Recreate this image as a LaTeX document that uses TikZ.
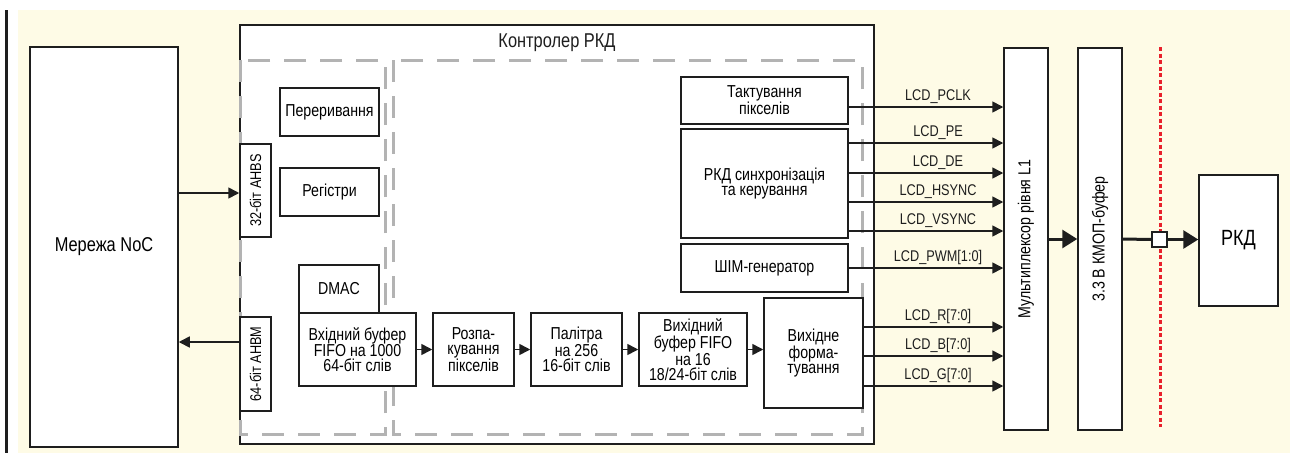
\documentclass[tikz,border=0pt]{standalone}
\usepackage{fontspec}
\usepackage{graphicx}
\setmainfont{Liberation Sans}[FakeStretch=0.82]
\usetikzlibrary{arrows.meta,calc}
\definecolor{paper}{HTML}{FEFBE6}
\definecolor{ink}{HTML}{1E1E1E}
\definecolor{dashgray}{HTML}{B3B3B3}
\definecolor{redcut}{HTML}{E8202B}
\newcommand\fblk{\fontsize{17.3}{14.8}\selectfont}
\newcommand\fsig{\fontsize{15.5}{16}\selectfont}
\newcommand\fbig{\fontsize{20}{22}\selectfont}
\tikzset{
  blk/.style     = {draw=ink, fill=white, line width=1.5pt, align=center, inner sep=0pt, font=\fblk},
  blksm/.style   = {blk, font=\fsig},
  grpdash/.style = {draw=dashgray, line width=3pt, dash pattern=on 22pt off 14pt},
  cutline/.style = {draw=redcut, line width=3pt, dash pattern=on 4pt off 2.5pt},
  sig/.style     = {-{Triangle[length=11pt,width=11pt]}, draw=ink, line width=1.6pt},
  bus/.style     = {-{Triangle[length=15pt,width=18pt]}, draw=ink, line width=3pt},
  busline/.style = {draw=ink, line width=3pt},
  siglab/.style  = {font=\fsig, text=ink, inner sep=0pt, anchor=base},
}
\begin{document}
\begin{tikzpicture}[x=1pt,y=-1pt]
\path[use as bounding box] (0,0) rectangle (1293,453);

% page ground and margin rule
\fill[paper] (18,10) rectangle (1290,453);
\draw[ink, line width=3pt] (6.5,10) -- (6.5,453);

% ---------- network and controller frame --------------------------------
\node[blk, font=\fbig, minimum width=148pt, minimum height=400pt] (noc) at (104,247) {Мережа NoC};
\node[blk, minimum width=634pt, minimum height=419pt] (ctrl) at (557,234.5) {};
\node[font=\fbig, text=ink, inner sep=0pt] (ctrltitle) at (557,43) {Контролер РКД};

% grey dashed groups
\draw[grpdash] (240,60) rectangle (385,434);
\draw[grpdash] (393,60) rectangle (862,434);

% ---------- bus side ----------------------------------------------------
\node[blksm, minimum width=31pt, minimum height=93pt] (ahbs) at (255.5,190.5) {\rotatebox{90}{32-біт AHBS}};
\node[blksm, minimum width=31pt, minimum height=94pt] (ahbm) at (255.5,364) {\rotatebox{90}{64-біт AHBM}};
\node[blk, minimum width=99pt, minimum height=48pt] (irq)  at (329.5,112) {Переривання};
\node[blk, minimum width=99pt, minimum height=48pt] (regs) at (329.5,192) {Регістри};
\node[blk, minimum width=80pt, minimum height=48pt] (dmac) at (339,289) {DMAC};

\draw[sig] (noc.east |- 0,193) -- (ahbs.west |- 0,193);
\draw[sig] (ahbm.west |- 0,342) -- (noc.east |- 0,342);

% ---------- pixel pipeline ----------------------------------------------
\node[blk, minimum width=117pt, minimum height=73pt] (infifo)  at (357.5,349.5) {Вхідний буфер\\FIFO на 1000\\64-біт слів};
\node[blk, minimum width=81pt,  minimum height=73pt] (unpack)  at (473.5,349.5) {Розпа-\\кування\\пікселів};
\node[blk, minimum width=91pt,  minimum height=73pt] (palette) at (576.5,349.5) {Палітра\\на 256\\16-біт слів};
\node[blk, minimum width=108pt, minimum height=73pt] (outfifo) at (693,349.5) {Вихідний\\буфер FIFO\\на 16\\18/24-біт слів};
\node[blk, minimum width=99pt,  minimum height=110pt] (fmt)    at (813.5,353) {Вихідне\\форма-\\тування};

\foreach \a/\b in {infifo/unpack, unpack/palette, palette/outfifo, outfifo/fmt}
  \draw[sig] (\a.east) -- (\a.east -| \b.west);

% ---------- timing and control ------------------------------------------
\node[blk, minimum width=167pt, minimum height=47pt]  (tact) at (764.5,100.5) {Тактування\\пікселів};
\node[blk, minimum width=167pt, minimum height=109pt] (sync) at (764.5,183.5) {РКД синхронізація\\та керування};
\node[blk, minimum width=167pt, minimum height=48pt]  (pwm)  at (764.5,268) {ШІМ-генератор};

% ---------- pads and panel ----------------------------------------------
\node[blk, minimum width=44pt, minimum height=382pt] (mux) at (1026,239) {\rotatebox{90}{Мультиплексор рівня L1}};
\node[blk, minimum width=44pt, minimum height=382pt] (buf) at (1100,239) {\rotatebox{90}{3.3 В КМОП-буфер}};
\node[blk, font=\fontsize{22}{24}\selectfont, minimum width=79pt, minimum height=131pt] (lcd) at (1238.5,240.5) {РКД};

% signals into the multiplexer
\foreach \name/\src/\yy in {LCD\_PCLK/tact/107, LCD\_PE/sync/143, LCD\_DE/sync/173,
    LCD\_HSYNC/sync/202, LCD\_VSYNC/sync/231, LCD\_PWM[1:0]/pwm/268,
    LCD\_R[7:0]/fmt/327, LCD\_B[7:0]/fmt/356, LCD\_G[7:0]/fmt/386}{
  \draw[sig] (\src.east |- 0,\yy) -- (mux.west |- 0,\yy);
  \node[siglab] (lab\yy) at (938,{\yy-7}) {\name};
}

% chip boundary
\draw[cutline] (1160,47) -- (1160,427);
\node[draw=ink, fill=white, line width=1.5pt, minimum size=15pt, inner sep=0pt] (pin) at (1159.5,239.5) {};

\draw[bus] (mux.east) -- (buf.west);
\draw[busline] (buf.east) -- (pin.west);
\draw[bus] (pin.east) -- (pin.east -| lcd.west);

\end{tikzpicture}
\end{document}
